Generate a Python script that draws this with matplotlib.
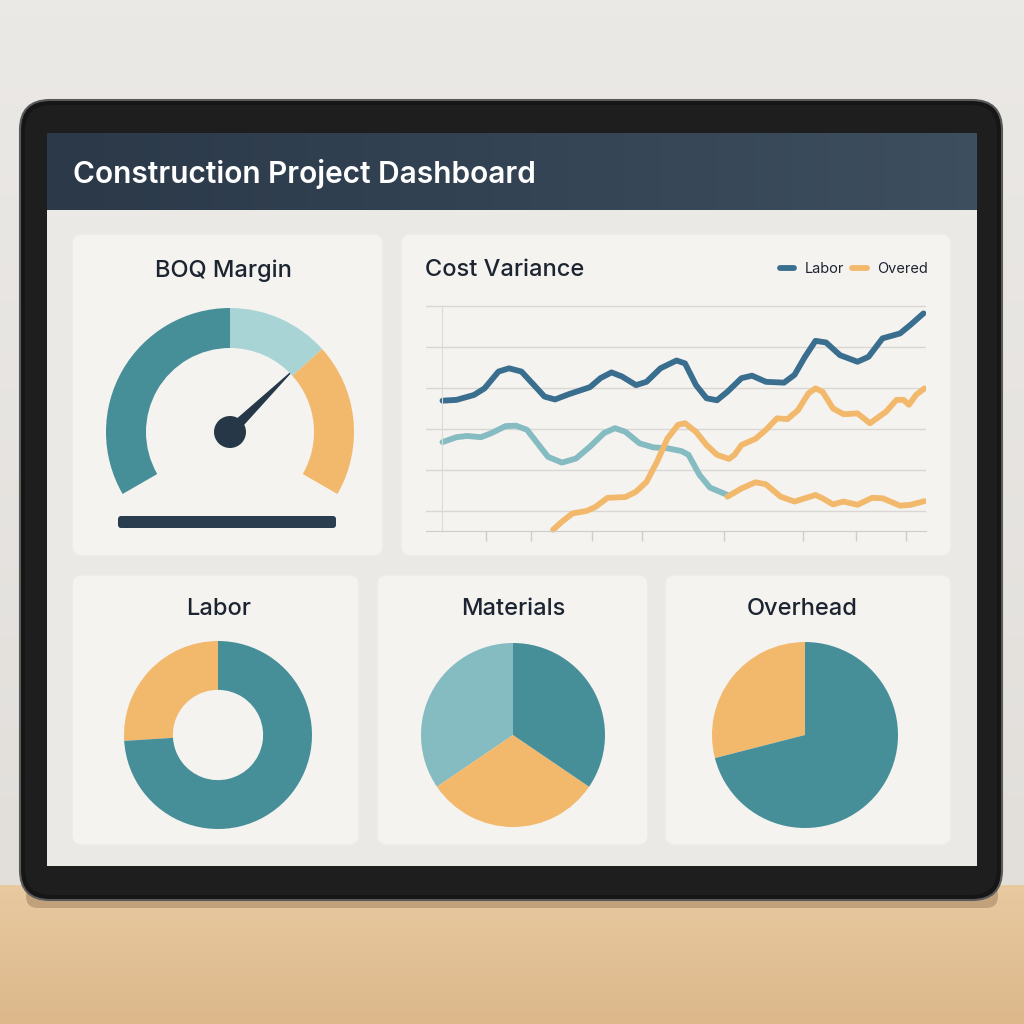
import numpy as np
import matplotlib.pyplot as plt
from matplotlib.patches import FancyBboxPatch, Wedge, Circle, Rectangle
from matplotlib.colors import LinearSegmentedColormap

plt.rcParams['font.family'] = ['Inter', 'DejaVu Sans']

# ---- dados ----
titulo = "Construction Project Dashboard"
titulos_cards = ["BOQ Margin", "Cost Variance", "Labor", "Materials", "Overhead"]
legenda = ["Labor", "Overed"]

# gauge (percentual 0-100)
gauge_faixas = [50, 20, 30]
gauge_valor = 69

# linha "Labor"
labor_x = [3.3, 6.1, 9.6, 11.7, 14.5, 16.6, 19.1, 21.6, 23.7, 25.8, 28.6, 32.8, 34.9, 37.1, 39.2,
           42.0, 44.1, 46.9, 50.1, 51.8, 54.0, 56.1, 58.2, 60.3, 63.1, 65.2, 68.0, 71.6, 73.7,
           75.8, 77.9, 80.0, 82.8, 86.3, 88.5, 91.3, 94.8, 96.9, 99.5]
labor_y = [36.9, 37.1, 38.3, 39.9, 44.0, 44.8, 44.0, 40.7, 37.9, 37.2, 38.5, 40.2, 42.4, 43.8, 42.8,
           40.7, 41.5, 44.8, 46.7, 46.0, 40.7, 37.5, 37.0, 39.1, 42.4, 43.0, 41.5, 41.3, 43.2,
           47.6, 51.5, 51.1, 48.0, 46.4, 47.6, 52.1, 53.3, 55.4, 58.2]

# linha azul clara (sem legenda)
mat_x = [3.3, 6.1, 8.2, 11.0, 13.1, 15.9, 18.0, 20.2, 22.3, 24.4, 27.2, 30.0, 32.8, 35.6, 37.8,
         39.9, 42.7, 45.5, 48.3, 51.1, 52.5, 54.7, 56.8, 60.3]
mat_y = [26.8, 28.0, 28.3, 28.0, 29.0, 30.7, 30.8, 29.8, 26.5, 23.2, 21.8, 22.8, 25.7, 29.0, 30.2,
         29.3, 26.5, 25.5, 25.3, 24.6, 23.7, 18.8, 15.7, 13.9]

# linha "Overed"
over_x = [25.4, 27.2, 29.3, 32.1, 33.9, 36.3, 39.9, 42.0, 44.1, 46.2, 48.3, 50.4, 51.8, 54.0,
          56.1, 58.2, 60.6, 61.7, 63.1, 65.9, 68.0, 70.2, 72.3, 74.4, 76.5, 77.9, 79.3, 81.4,
          83.5, 86.3, 88.8, 92.0, 94.1, 95.5, 96.6, 98.0, 99.7]
over_y = [5.4, 7.4, 9.4, 10.0, 11.0, 13.2, 13.4, 14.7, 17.1, 22.0, 27.7, 31.0, 31.4, 29.3,
          26.1, 23.7, 22.7, 23.7, 26.1, 27.6, 29.8, 32.6, 32.4, 34.6, 38.7, 39.9, 39.1, 35.0,
          33.6, 33.8, 31.4, 34.2, 37.1, 37.1, 35.9, 38.3, 39.9]

# segmento laranja inferior
over2_x = [60.3, 63.1, 65.9, 68.0, 70.9, 73.7, 75.8, 77.9, 79.3, 81.4, 83.5, 86.3, 89.2, 91.3,
           94.8, 96.9, 99.7]
over2_y = [13.5, 15.5, 17.0, 16.5, 13.5, 12.3, 13.1, 13.9, 13.1, 11.6, 12.3, 11.5, 13.2, 13.1,
           11.3, 11.5, 12.4]

grid_y = [10, 20, 30, 40, 50, 60]
ticks_x = [12, 21, 33.2, 43.2, 59.6, 75.4, 86, 96]

# pizzas
labor_pie = [26, 74]
materials_pie = [34.5, 31, 34.5]
overhead_pie = [29, 71]

# cores
teal = '#478f98'
teal_claro = '#a8d4d5'
teal_medio = '#84bcc1'
laranja = '#f2b96c'
escuro = '#263848'
azul_linha = '#3a6e8e'
texto = '#1b2430'

W, H = 1024, 1024


def eixo_px(x0, y0, x1, y1):
    # cria eixo a partir de coordenadas em pixels (origem no topo)
    return fig.add_axes([x0 / W, 1 - y1 / H, (x1 - x0) / W, (y1 - y0) / H])


fig = plt.figure(figsize=(10.24, 10.24), dpi=100)

# ---- fundo, tablet, cards ----
bg = fig.add_axes([0, 0, 1, 1])
parede = LinearSegmentedColormap.from_list('parede', ['#ebe9e6', '#e2dfdb'])
mesa = LinearSegmentedColormap.from_list('mesa', ['#e8c9a0', '#dcb88b'])
bg.imshow(np.linspace(0, 1, 50).reshape(-1, 1), cmap=parede, extent=(0, W, 885, 0), aspect='auto', zorder=0)
bg.imshow(np.linspace(0, 1, 50).reshape(-1, 1), cmap=mesa, extent=(0, W, H, 885), aspect='auto', zorder=0)
bg.set_xlim(0, W)
bg.set_ylim(H, 0)
bg.axis('off')

bg.add_patch(FancyBboxPatch((26, 884), 972, 24, boxstyle='round,pad=0,rounding_size=12',
                            fc='#7a5c3c', ec='none', alpha=0.35, zorder=1))
bg.add_patch(FancyBboxPatch((20, 100), 982, 800, boxstyle='round,pad=0,rounding_size=30',
                            fc='#161616', ec='#5a5a5a', lw=1.5, zorder=1))
bg.add_patch(FancyBboxPatch((25, 105), 972, 790, boxstyle='round,pad=0,rounding_size=26',
                            fc='#1e1e1e', ec='none', zorder=1))
bg.add_patch(Rectangle((47, 133), 930, 733, fc='#ebe9e6', ec='none', zorder=1))
cabec = LinearSegmentedColormap.from_list('cabec', ['#2b3949', '#3d4e5f'])
bg.imshow(np.linspace(0, 1, 50).reshape(1, -1), cmap=cabec, extent=(47, 977, 210, 133),
          aspect='auto', zorder=2)
bg.set_xlim(0, W)
bg.set_ylim(H, 0)
bg.text(73, 174, titulo, color='white', fontsize=21.5, fontweight='semibold',
        va='center', ha='left', zorder=3)

cards = [(72, 234, 383, 556), (401, 234, 951, 556), (72, 575, 359, 845),
         (377, 575, 648, 845), (665, 575, 951, 845)]
for x0, y0, x1, y1 in cards:
    bg.add_patch(FancyBboxPatch((x0, y0), x1 - x0, y1 - y0, boxstyle='round,pad=0,rounding_size=10',
                                fc='#f5f3f0', ec='#ecebe8', lw=1, zorder=2))

bg.text(223, 271, titulos_cards[0], color=texto, fontsize=17, fontweight='medium', ha='center', va='center', zorder=3)
bg.text(425, 270, titulos_cards[1], color=texto, fontsize=17, fontweight='medium', ha='left', va='center', zorder=3)
bg.text(219, 609, titulos_cards[2], color=texto, fontsize=17, fontweight='medium', ha='center', va='center', zorder=3)
bg.text(513, 609, titulos_cards[3], color=texto, fontsize=17, fontweight='medium', ha='center', va='center', zorder=3)
bg.text(802, 609, titulos_cards[4], color=texto, fontsize=17, fontweight='medium', ha='center', va='center', zorder=3)

# ---- gauge ----
ag = eixo_px(100, 300, 360, 540)
ag.set_xlim(-130, 130)
ag.set_ylim(-108, 132)
ag.axis('off')
cores_gauge = [teal, teal_claro, laranja]
inicio = 0
for v, c in zip(gauge_faixas, cores_gauge):
    a1 = 210 - inicio * 2.4
    a2 = 210 - (inicio + v) * 2.4
    ag.add_patch(Wedge((0, 0), 124, a2, a1, width=40, fc=c, ec='none'))
    inicio += v
ang = np.radians(210 - gauge_valor * 2.4)
perp = ang + np.pi / 2
ag.fill([84 * np.cos(ang), 5 * np.cos(perp), -5 * np.cos(perp)],
        [84 * np.sin(ang), 5 * np.sin(perp), -5 * np.sin(perp)], color=escuro)
ag.add_patch(Circle((0, 0), 16, fc=escuro, ec='none'))
ag.add_patch(FancyBboxPatch((-112, -96), 218, 12, boxstyle='round,pad=0,rounding_size=3',
                            fc='#2a3d4f', ec='none'))

# ---- variação de custo ----
al = eixo_px(426, 290, 926, 545)
al.set_xlim(0, 100)
al.set_ylim(1.7, 63.9)
al.set_facecolor('none')
l1, = al.plot(labor_x, labor_y, color=azul_linha, lw=4.2, solid_capstyle='round', solid_joinstyle='round')
al.plot(mat_x, mat_y, color=teal_medio, lw=4.2, solid_capstyle='round', solid_joinstyle='round')
l2, = al.plot(over_x, over_y, color=laranja, lw=4.2, solid_capstyle='round', solid_joinstyle='round')
al.plot(over2_x, over2_y, color=laranja, lw=4.2, solid_capstyle='round', solid_joinstyle='round')
al.set_yticks(grid_y)
al.set_yticklabels([])
al.set_xticks(ticks_x)
al.set_xticklabels([])
al.grid(True, axis='y', color='#d9d7d3', lw=1)
al.set_axisbelow(True)
al.tick_params(axis='y', length=0)
al.tick_params(axis='x', length=7, color='#cfcdc9', width=1, direction='out')
for s in ['top', 'right']:
    al.spines[s].set_visible(False)
al.spines['bottom'].set_position(('data', 5))
al.spines['bottom'].set_color('#cfcdc9')
al.spines['left'].set_position(('data', 3.2))
al.spines['left'].set_bounds(5, 60)
al.spines['left'].set_color('#dddbd7')
fig.legend([l1, l2], legenda, loc='center right', bbox_to_anchor=(928 / W, 1 - 269 / H),
           bbox_transform=fig.transFigure, ncol=2, frameon=False, fontsize=10.5,
           borderpad=0, borderaxespad=0,
           handlelength=1.0, handletextpad=0.7, columnspacing=0.6, labelcolor=texto)

# ---- pizzas ----
def pizza(cx, cy, r, valores, cores, largura=None):
    ax = eixo_px(cx - r, cy - r, cx + r, cy + r)
    wp = {'linewidth': 0}
    if largura:
        wp['width'] = largura
    ax.pie(valores, colors=cores, startangle=90, counterclock=True, wedgeprops=wp, radius=1)
    ax.set_xlim(-1, 1)
    ax.set_ylim(-1, 1)
    ax.axis('off')


pizza(218, 735, 94, labor_pie, [laranja, teal], largura=0.52)
pizza(513, 735, 92, materials_pie, [teal_medio, laranja, teal])
pizza(805, 735, 93, overhead_pie, [laranja, teal])

fig.savefig('out.png', dpi=100)
